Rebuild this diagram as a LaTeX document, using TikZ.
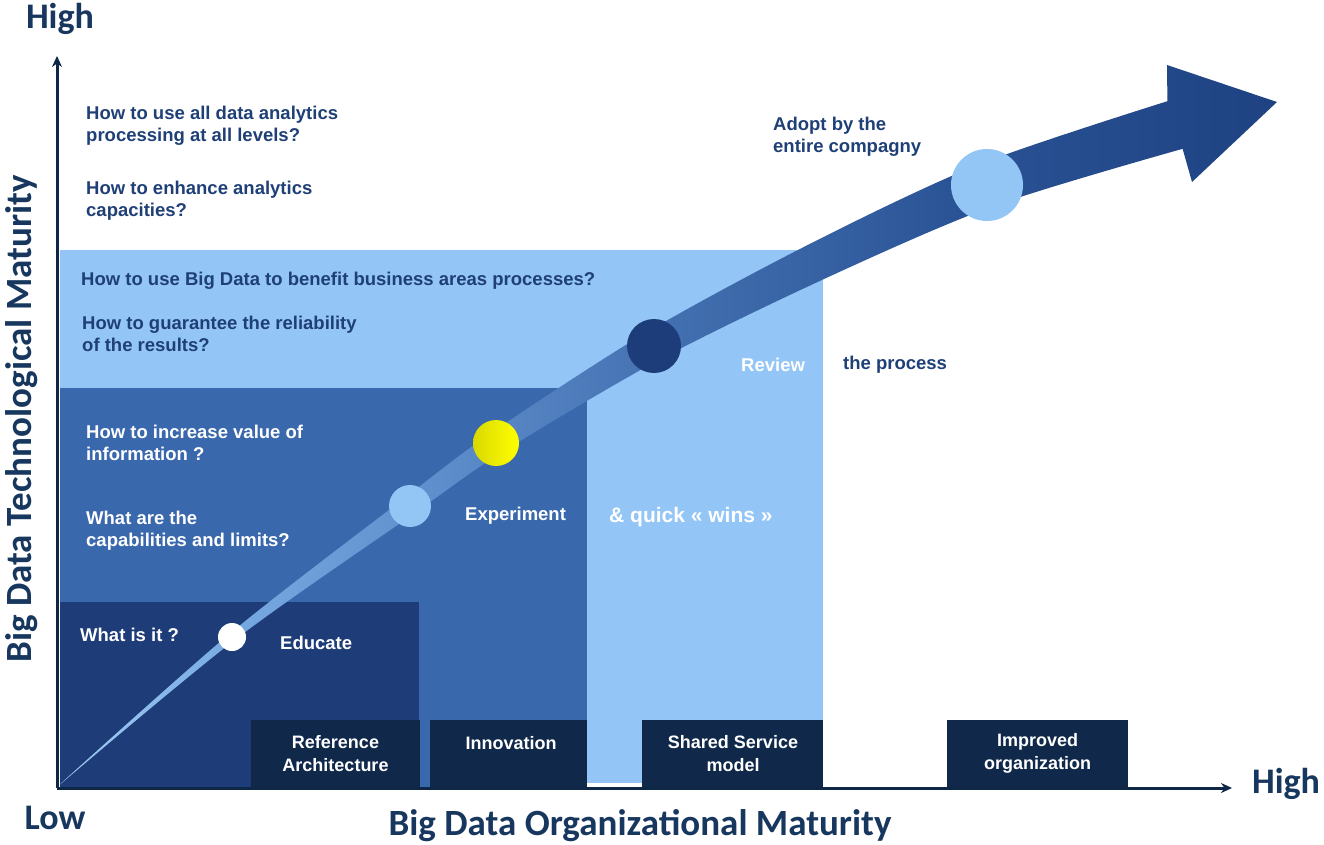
\documentclass[tikz,border=0pt]{standalone}
\usepackage{fontspec}
\setmainfont{Liberation Sans}
\newfontfamily\axfont{Carlito}
\usetikzlibrary{arrows.meta}
\definecolor{lightreg}{HTML}{93C6F6}
\definecolor{medreg}{HTML}{3A68AD}
\definecolor{darkreg}{HTML}{1E3C78}
\definecolor{boxnavy}{HTML}{10284A}
\definecolor{axnavy}{HTML}{0F2747}
\definecolor{labnavy}{HTML}{17375E}
\definecolor{qnavy}{HTML}{1F3F77}
\definecolor{bandA}{HTML}{A4D0F7}
\definecolor{bandB}{HTML}{78AAE2}
\definecolor{bandC}{HTML}{5A89C8}
\definecolor{bandD}{HTML}{4370B0}
\definecolor{bandE}{HTML}{2A5395}
\definecolor{bandF}{HTML}{1E4282}
\definecolor{circlight}{HTML}{93C5F5}
\definecolor{circdark}{HTML}{1D3C7A}
\pgfdeclarehorizontalshading{bandshade}{100bp}{color(0bp)=(bandA); color(25bp)=(bandA); color(32bp)=(bandB); color(42bp)=(bandC); color(50bp)=(bandD); color(62bp)=(bandE); color(75bp)=(bandF); color(100bp)=(bandF)}
\tikzset{
  qtext/.style={anchor=west, inner sep=0pt, align=left, font=\bfseries\fontsize{18.5}{22}\selectfont, text=qnavy},
  wtext/.style={qtext, text=white},
  boxlab/.style={inner sep=0pt, align=center, font=\bfseries\fontsize{18}{23}\selectfont, text=white},
  stagebox/.style={fill=boxnavy, inner sep=0pt, minimum height=67pt},
  axisline/.style={draw=axnavy, line width=3pt, -{Stealth[length=11pt,width=10pt]}},
  axlab/.style={inner sep=0pt, font=\axfont\bfseries\fontsize{36}{38}\selectfont, text=labnavy},
  dot/.style={circle, inner sep=0pt}
}
\begin{document}
\begin{tikzpicture}[x=1pt,y=-1pt]
\useasboundingbox (0,0) rectangle (1324,845);
% regions
\fill[lightreg] (60,250) rectangle (823,783);
\fill[medreg] (60,388) rectangle (587,787);
\fill[darkreg] (60,602) rectangle (419,787);
% stage boxes
\node[stagebox, minimum width=169pt] (refbox) at (335.5,753.5) {};
\node[stagebox, minimum width=157pt] (innbox) at (508.5,753.5) {};
\node[stagebox, minimum width=181pt] (shbox) at (732.5,753.5) {};
\node[stagebox, minimum width=181pt] (impbox) at (1037.5,753.5) {};
\node[boxlab] (reflab) at (335.5,754) {Reference\\Architecture};
\node[boxlab] (innlab) at (511,743) {Innovation};
\node[boxlab] (shlab) at (733,754) {Shared Service\\model};
\node[boxlab] (implab) at (1037.5,753) {Improved\\organization};
% band arrow
\shade[shading=bandshade]
  plot[smooth] coordinates {(57,787) (229.4,634) (403.7,498.7) (490,433.8) (645.6,332.9) (811.8,242.9) (979.2,164.4) (1167.4,101.2)}
  -- (1167,65) -- (1277,102) -- (1192,182) -- (1182.6,148.8)
  -- plot[smooth] coordinates {(1182.6,148.8) (994.8,205.6) (828.2,277.1) (660.4,359.1) (502,452.2) (414.3,513.3) (234.6,640) (57,787)}
  -- cycle;
% milestones
\node[dot, fill=white, minimum size=28pt] (m1) at (232,637) {};
\node[dot, fill=circlight, minimum size=42pt] (m2) at (410,506) {};
\node[dot, left color=yellow!85!black, right color=yellow, minimum size=46pt] (m3) at (496,443) {};
\node[dot, fill=circdark, minimum size=54pt] (m4) at (654,346) {};
\node[dot, fill=circlight, minimum size=72pt] (m5) at (987,185) {};
% axes
\coordinate (O) at (57,788);
\coordinate (ytop) at (57,56);
\coordinate (xend) at (1232,788);
\draw[axisline] (O) -- (ytop);
\draw[axisline] (O) -- (xend);
% axis labels
\node[axlab] (yhigh) at (60,19) {High};
\node[axlab] (low) at (55,818) {Low};
\node[axlab] (xhigh) at (1286,784) {High};
\node[axlab, font=\axfont\bfseries\fontsize{37}{40}\selectfont] (xlab) at (640,826) {Big Data Organizational Maturity};
\node[axlab, font=\axfont\bfseries\fontsize{37}{40}\selectfont, rotate=90] (ylab) at (22,419) {Big Data Technological Maturity};
% questions
\node[qtext] (q1) at (86,126) {How to use all data analytics\\processing at all levels?};
\node[qtext] (q2) at (86,201) {How to enhance analytics\\capacities?};
\node[qtext] (q3) at (81,281) {How to use Big Data to benefit business areas processes?};
\node[qtext] (q4) at (82,334) {How to guarantee the reliability\\of the results?};
\node[wtext] (q5) at (86,443) {How to increase value of\\information ?};
\node[wtext] (q6) at (86,531) {What are the\\capabilities and limits?};
\node[wtext] (q7) at (80,635) {What is it ?};
% stage texts
\node[wtext] (educ) at (280,643) {Educate};
\node[wtext] (expe) at (465,516) {Experiment};
\node[wtext, font=\bfseries\fontsize{21}{24}\selectfont] (wins) at (609,517) {\& quick « wins »};
\node[wtext] (rev) at (741,365) {Review};
\node[qtext] (proc) at (843,365) {the process};
\node[qtext] (adopt) at (773,137) {Adopt by the\\entire compagny};
\end{tikzpicture}
\end{document}
